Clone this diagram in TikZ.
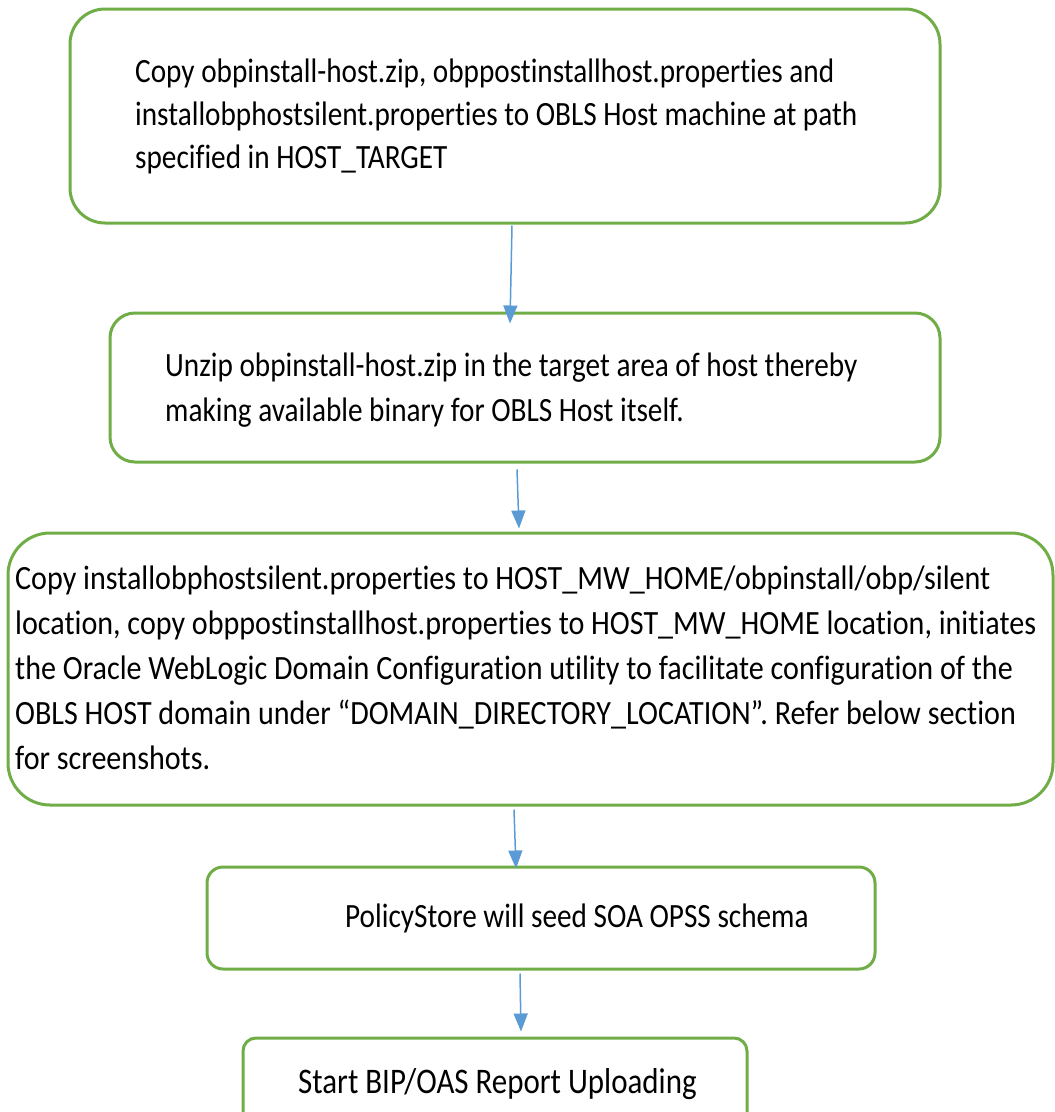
\documentclass[tikz,border=0pt]{standalone}
\usepackage{fontspec}
\setmainfont{Carlito}[FakeStretch=0.86, Ligatures=NoCommon]
\usetikzlibrary{arrows.meta}
\definecolor{stepGreen}{RGB}{112,173,71}
\definecolor{flowBlue}{RGB}{91,155,213}

\begin{document}
\begin{tikzpicture}[x=1pt,y=-1pt,
  stepbox/.style={draw=stepGreen, line width=3pt, rounded corners=#1, inner sep=0pt},
  steptext/.style={anchor=west, align=left, inner sep=0pt, font=\fontsize{34}{45}\selectfont},
  flow/.style={draw=flowBlue, line width=1.5pt, -{Triangle[length=18pt,width=14pt]}}]

  \useasboundingbox (0,0) rectangle (1055,1112);
  \clip (0,0) rectangle (1055,1112);

  % the five steps
  \node[stepbox=35, minimum width=870, minimum height=214] (b1) at (505,116) {};
  \node[stepbox=25, minimum width=830, minimum height=149] (b2) at (525,387.5) {};
  \node[stepbox=42, minimum width=1045, minimum height=272] (b3) at (530.5,669) {};
  \node[stepbox=16, minimum width=668, minimum height=102] (b4) at (541,918) {};
  \node[stepbox=13, minimum width=504, minimum height=100] (b5) at (495,1088) {};

  \node[steptext, font=\fontsize{34}{43}\selectfont] (t1) at (135,116) {Copy obpinstall-host.zip, obppostinstallhost.properties and\\
    installobphostsilent.properties to OBLS Host machine at path\\
    specified in HOST\_TARGET};
  \node[steptext] (t2) at (165,390) {Unzip obpinstall-host.zip in the target area of host thereby\\
    making available binary for OBLS Host itself.};
  \node[steptext, font=\fontsize{34}{45}\selectfont\addfontfeature{FakeStretch=0.885}] (t3) at (15,668) {Copy installobphostsilent.properties to HOST\_MW\_HOME/obpinstall/obp/silent\\
    location, copy obppostinstallhost.properties to HOST\_MW\_HOME location, initiates\\
    the Oracle WebLogic Domain Configuration utility to facilitate configuration of the\\
    OBLS HOST domain under “DOMAIN\_DIRECTORY\_LOCATION”. Refer below section\\
    for screenshots.};
  \node[steptext] (t4) at (345,918) {PolicyStore will seed SOA OPSS schema};
  \node[steptext, font=\fontsize{36}{45}\selectfont] (t5) at (298,1084) {Start BIP/OAS Report Uploading};

  % arrows
  \draw[flow] ([xshift=7pt,yshift=-1pt]b1.south) -- ([xshift=-15pt,yshift=-12pt]b2.north);
  \draw[flow] ([xshift=-8pt,yshift=-6pt]b2.south) -- ([xshift=-11.5pt,yshift=3pt]b3.north);
  \draw[flow] ([xshift=-16.5pt,yshift=-3pt]b3.south) -- ([xshift=-25pt,yshift=-3pt]b4.north);
  \draw[flow] ([xshift=-21pt,yshift=-3pt]b4.south) -- ([xshift=26pt,yshift=5pt]b5.north);
\end{tikzpicture}
\end{document}
